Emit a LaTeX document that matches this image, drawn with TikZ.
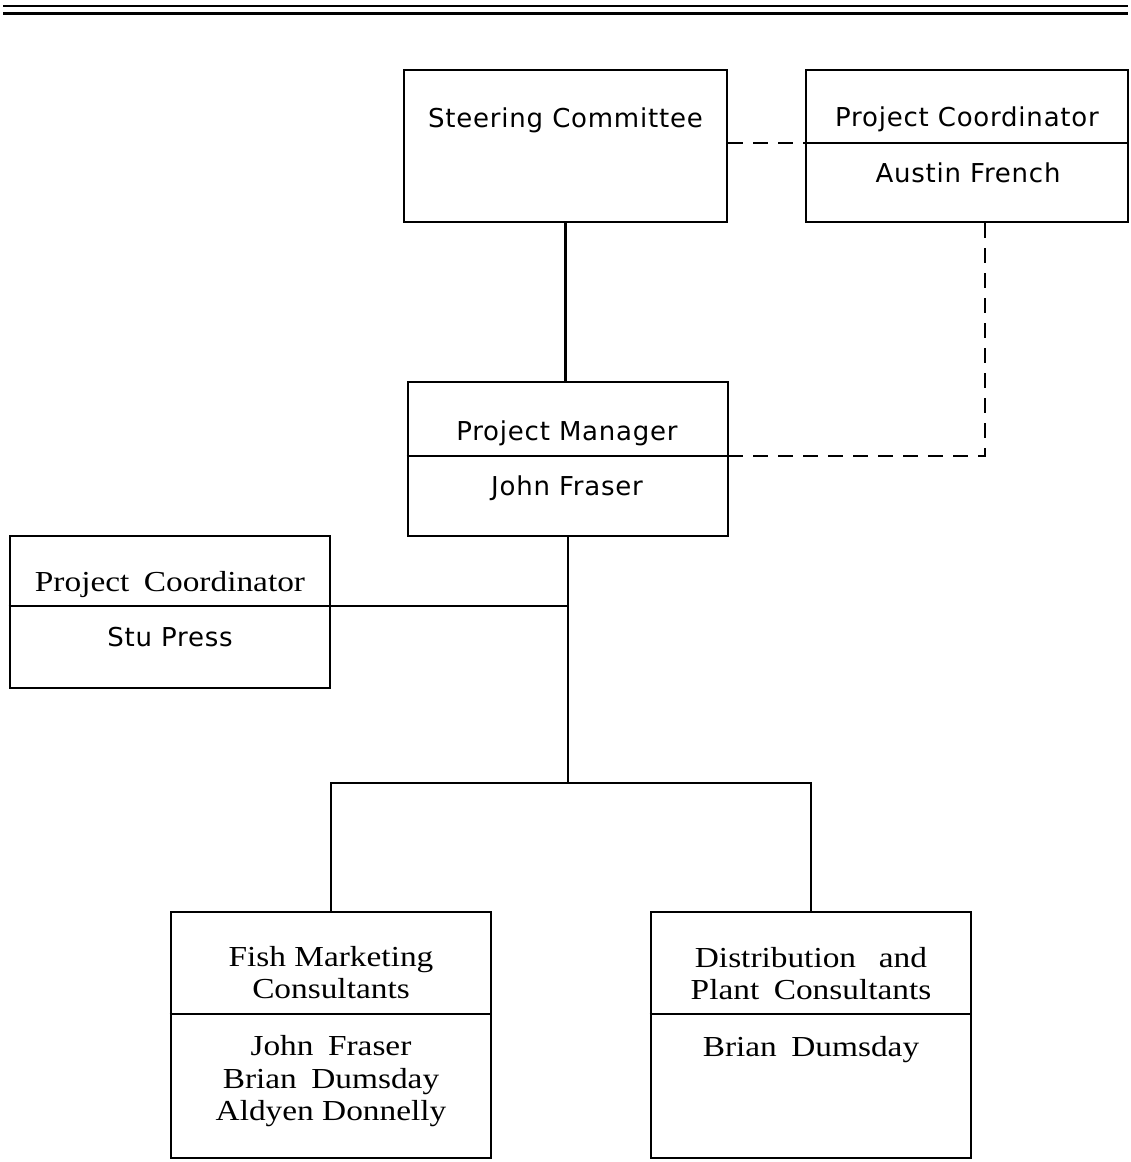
\documentclass[tikz,border=0pt]{standalone}
\usepackage{fontspec}
\setmainfont{Liberation Serif}[FakeStretch=1.15]
\newfontfamily\boxsans{DejaVu Sans}[LetterSpace=3]
\usetikzlibrary{positioning,calc}

\begin{document}
\begin{tikzpicture}[
    x=1pt, y=-1pt,
    box/.style={draw=black, line width=2.8pt, inner sep=0pt, minimum width=#1},
    rule/.style={draw=black, line width=2.8pt},
    dashrule/.style={draw=black, line width=2.2pt, dash pattern=on 15pt off 10pt},
    sanslbl/.style={anchor=base, inner sep=0pt, font=\boxsans\fontsize{26}{30}\selectfont},
    seriflbl/.style={anchor=base, inner sep=0pt, align=center, font=\fontsize{29}{32.5}\selectfont}
]
\useasboundingbox (0,0) rectangle (1131,1162);

% Double rule at the top
\draw[line width=2.8pt] (3,6) -- (1128,6);
\draw[line width=3.2pt] (3,13.5) -- (1128,13.5);

% Divider levels
\coordinate (pcdiv) at (0,143);
\coordinate (pmdiv) at (0,456);
\coordinate (spdiv) at (0,606);
\coordinate (bottomdiv) at (0,1014);
\coordinate (bus) at (0,783);

% Top row
\node[box=323pt, minimum height=152pt] (sc) at (565.5,146) {};
\node[sanslbl] (sc_title) at (565.5,127) {Steering Committee};

\node[box=322pt, minimum height=152pt] (pca) at (967,146) {};
\node[sanslbl] (pca_title) at (967,126) {Project Coordinator};
\node[sanslbl] (pca_name) at (968,182.5) {Austin French};
\draw[rule] (pca.west |- pcdiv) -- (pca.east |- pcdiv);

% Project Manager
\node[box=320pt, minimum height=154pt] (pm) at (568,459) {};
\node[sanslbl] (pm_title) at (567,440) {Project Manager};
\node[sanslbl] (pm_name) at (567,495) {John Fraser};
\draw[rule] (pm.west |- pmdiv) -- (pm.east |- pmdiv);

% Left coordinator
\node[box=320pt, minimum height=152pt] (sp) at (170,612) {};
\node[seriflbl] (sp_title) at (170,591.5) {Project\enspace Coordinator};
\node[sanslbl] (sp_name) at (170,646.5) {Stu Press};

% Consultant boxes (base = last line)
\node[box=320pt, minimum height=246pt] (fm) at (331,1035) {};
\node[seriflbl] (fm_title) at (331,998.5) {Fish Marketing\\Consultants};
\node[seriflbl] (fm_names) at (331,1120.5) {John\enspace Fraser\\Brian\enspace Dumsday\\Aldyen Donnelly};
\draw[rule] (fm.west |- bottomdiv) -- (fm.east |- bottomdiv);

\node[box=320pt, minimum height=246pt] (dp) at (811,1035) {};
\node[seriflbl] (dp_title) at (811,999.5) {Distribution\enspace\ and\\Plant\enspace Consultants};
\node[seriflbl] (dp_names) at (811,1056) {Brian\enspace Dumsday};
\draw[rule] (dp.west |- bottomdiv) -- (dp.east |- bottomdiv);

% Solid connectors
\draw[rule] (sc.south) -- (sc.south |- pm.north);
\draw[rule] (pm.south) -- (pm.south |- bus);
\draw[rule] (sp.west |- spdiv) -- (pm.south |- spdiv);
\draw[rule] (fm.north) -- (fm.north |- bus) -- (dp.north |- bus) -- (dp.north);

% Dashed connectors
\draw[dashrule] (sc.east |- pcdiv) -- (pca.west |- pcdiv);
\draw[dashrule] ($(pca.south)+(18,0)$) |- (pm.east |- pmdiv);

\end{tikzpicture}
\end{document}
